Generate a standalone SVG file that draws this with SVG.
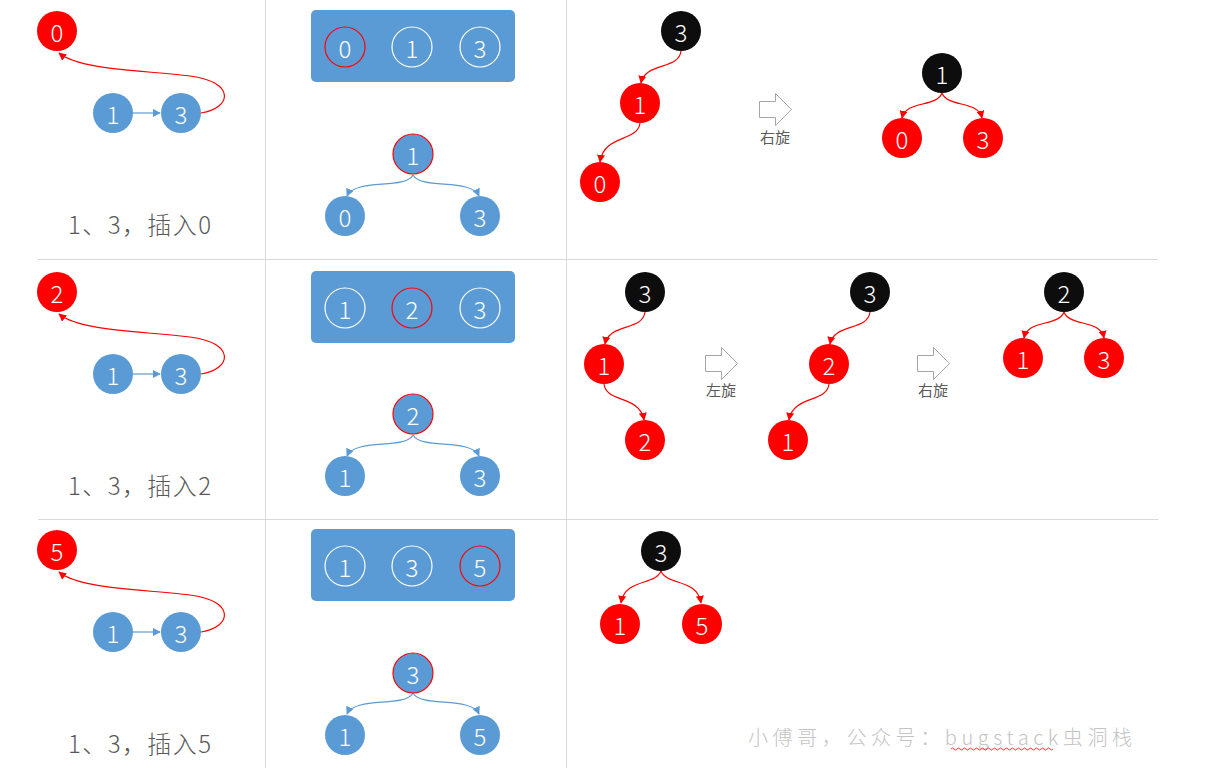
<svg xmlns="http://www.w3.org/2000/svg" width="1210" height="768" viewBox="0 0 1210 768">
<style>
.grid{stroke:#d9d9d9;stroke-width:1;fill:none}
.blue{fill:#5b9bd5}
.red{fill:#ff0000}
.blk{fill:#0d0d0d}
.ring{fill:none;stroke:#ffffff;stroke-width:1.2}
.ringr{fill:none;stroke:#ff0000;stroke-width:1.2}
.nt{fill:#ffffff;font-family:"Noto Sans CJK SC","Liberation Sans",sans-serif;font-size:24px;font-weight:300;text-anchor:middle;dominant-baseline:central}
.lbl{fill:#595959;font-family:"Noto Sans CJK SC","Liberation Sans",sans-serif;font-size:24px;font-weight:300}
.rot{fill:#595959;font-family:"Noto Sans CJK SC",sans-serif;font-size:15px;text-anchor:middle}
.cr{fill:none;stroke:#ff0000;stroke-width:1.2;marker-end:url(#ar)}
.cb{fill:none;stroke:#5b9bd5;stroke-width:1.2;marker-end:url(#ab)}
.blk-arrow{fill:#ffffff;stroke:#a6a6a6;stroke-width:1}
.wm{fill:#c4c4c4;font-family:"Noto Sans CJK SC",sans-serif;font-size:20px;font-weight:300}
</style>
<defs>
<marker id="ar" viewBox="0 0 10 10" refX="9" refY="5" markerWidth="8" markerHeight="8" markerUnits="userSpaceOnUse" orient="auto"><path d="M0,0L10,5L0,10z" fill="#ff0000"/></marker>
<marker id="ab" viewBox="0 0 10 10" refX="9" refY="5" markerWidth="8" markerHeight="8" markerUnits="userSpaceOnUse" orient="auto"><path d="M0,0L10,5L0,10z" fill="#5b9bd5"/></marker>
</defs>
<rect width="1210" height="768" fill="#ffffff"/>
<g id="grid">
<line class="grid" x1="38" y1="259.5" x2="1158" y2="259.5"/>
<line class="grid" x1="38" y1="519.5" x2="1158" y2="519.5"/>
<line class="grid" x1="265.5" y1="0" x2="265.5" y2="768"/>
<line class="grid" x1="566.5" y1="0" x2="566.5" y2="768"/>
</g>
<g id="connectors">
<path class="cb" d="M133,113L160,113"/>
<path class="cr" d="M201,113C232,108 236,82 190,76C140,70 80,70 59,53"/>
<path class="cb" d="M413,175C405,190 355,178 347,196"/>
<path class="cb" d="M413,175C421,190 471,178 479,196"/>
<path class="cr" d="M681,51C679,70 645,62 641,83"/>
<path class="cr" d="M640,123C638,142 604,134 600,162"/>
<path class="cr" d="M942,93C936,108 906,100 902,118"/>
<path class="cr" d="M942,93C948,108 978,100 982,118"/>
<path class="cb" d="M133,374L160,374"/>
<path class="cr" d="M201,374C232,369 236,343 190,337C140,331 80,331 59,314"/>
<path class="cb" d="M413,435C405,450 355,438 347,456"/>
<path class="cb" d="M413,435C421,450 471,438 479,456"/>
<path class="cr" d="M645,312C643,331 609,323 605,344"/>
<path class="cr" d="M604,384C606,403 640,395 644,420"/>
<path class="cr" d="M870,312C868,331 834,323 830,344"/>
<path class="cr" d="M829,384C827,403 793,395 789,420"/>
<path class="cr" d="M1064,312C1058,327 1028,319 1024,338"/>
<path class="cr" d="M1064,312C1070,327 1100,319 1104,338"/>
<path class="cb" d="M133,632L160,632"/>
<path class="cr" d="M201,632C232,627 236,601 190,595C140,589 80,589 59,572"/>
<path class="cb" d="M413,693C405,708 355,696 347,714"/>
<path class="cb" d="M413,693C421,708 471,696 479,714"/>
<path class="cr" d="M661,571C655,586 625,578 621,603"/>
<path class="cr" d="M661,571C667,586 697,578 701,603"/>
</g>
<g id="r1-new0"><circle class="red" cx="57" cy="31" r="20"/><text class="nt" x="57" y="31">0</text></g>
<g id="r1-list1"><circle class="blue" cx="113" cy="113" r="20"/><text class="nt" x="113" y="113">1</text></g>
<g id="r1-list3"><circle class="blue" cx="181" cy="113" r="20"/><text class="nt" x="181" y="113">3</text></g>
<text class="lbl" x="68" y="234" textLength="143" lengthAdjust="spacing">1、3，插入0</text>
<g id="r1-box"><rect class="blue" x="311" y="10" width="204" height="72" rx="5"/>
<circle class="ringr" cx="345" cy="47" r="20"/><text class="nt" x="345" y="47">0</text>
<circle class="ring" cx="412" cy="47" r="20"/><text class="nt" x="412" y="47">1</text>
<circle class="ring" cx="480" cy="47" r="20"/><text class="nt" x="480" y="47">3</text></g>
<g id="r1-t1"><circle class="blue" cx="413" cy="154" r="20" stroke="#ff0000" stroke-width="1.2"/><text class="nt" x="413" y="154">1</text></g>
<g id="r1-t0"><circle class="blue" cx="345" cy="216" r="20"/><text class="nt" x="345" y="216">0</text></g>
<g id="r1-t3"><circle class="blue" cx="480" cy="216" r="20"/><text class="nt" x="480" y="216">3</text></g>
<g id="r1-a3"><circle class="blk" cx="681" cy="31" r="20"/><text class="nt" x="681" y="31">3</text></g>
<g id="r1-a1"><circle class="red" cx="640" cy="103" r="20"/><text class="nt" x="640" y="103">1</text></g>
<g id="r1-a0"><circle class="red" cx="600" cy="182" r="20"/><text class="nt" x="600" y="182">0</text></g>
<g id="r1-rot"><path class="blk-arrow" d="M759.5,101.5H775.5V93.5L791.5,109.5L775.5,125.5V117.5H759.5Z"/><text class="rot" x="775" y="143">右旋</text></g>
<g id="r1-b1"><circle class="blk" cx="942" cy="73" r="20"/><text class="nt" x="942" y="73">1</text></g>
<g id="r1-b0"><circle class="red" cx="902" cy="138" r="20"/><text class="nt" x="902" y="138">0</text></g>
<g id="r1-b3"><circle class="red" cx="983" cy="138" r="20"/><text class="nt" x="983" y="138">3</text></g>
<g id="r2-new2"><circle class="red" cx="57" cy="292" r="20"/><text class="nt" x="57" y="292">2</text></g>
<g id="r2-list1"><circle class="blue" cx="113" cy="374" r="20"/><text class="nt" x="113" y="374">1</text></g>
<g id="r2-list3"><circle class="blue" cx="181" cy="374" r="20"/><text class="nt" x="181" y="374">3</text></g>
<text class="lbl" x="68" y="495" textLength="143" lengthAdjust="spacing">1、3，插入2</text>
<g id="r2-box"><rect class="blue" x="311" y="271" width="204" height="72" rx="5"/>
<circle class="ring" cx="345" cy="308" r="20"/><text class="nt" x="345" y="308">1</text>
<circle class="ringr" cx="412" cy="308" r="20"/><text class="nt" x="412" y="308">2</text>
<circle class="ring" cx="480" cy="308" r="20"/><text class="nt" x="480" y="308">3</text></g>
<g id="r2-t2"><circle class="blue" cx="413" cy="414" r="20" stroke="#ff0000" stroke-width="1.2"/><text class="nt" x="413" y="414">2</text></g>
<g id="r2-t1"><circle class="blue" cx="345" cy="476" r="20"/><text class="nt" x="345" y="476">1</text></g>
<g id="r2-t3"><circle class="blue" cx="480" cy="476" r="20"/><text class="nt" x="480" y="476">3</text></g>
<g id="r2-a3"><circle class="blk" cx="645" cy="292" r="20"/><text class="nt" x="645" y="292">3</text></g>
<g id="r2-a1"><circle class="red" cx="604" cy="364" r="20"/><text class="nt" x="604" y="364">1</text></g>
<g id="r2-a2"><circle class="red" cx="645" cy="440" r="20"/><text class="nt" x="645" y="440">2</text></g>
<g id="r2-rotl"><path class="blk-arrow" d="M705.5,355.5H721.5V347.5L737.5,363.5L721.5,379.5V371.5H705.5Z"/><text class="rot" x="721" y="396">左旋</text></g>
<g id="r2-b3"><circle class="blk" cx="870" cy="292" r="20"/><text class="nt" x="870" y="292">3</text></g>
<g id="r2-b2"><circle class="red" cx="829" cy="364" r="20"/><text class="nt" x="829" y="364">2</text></g>
<g id="r2-b1"><circle class="red" cx="788" cy="440" r="20"/><text class="nt" x="788" y="440">1</text></g>
<g id="r2-rotr"><path class="blk-arrow" d="M917.5,355.5H933.5V347.5L949.5,363.5L933.5,379.5V371.5H917.5Z"/><text class="rot" x="933" y="396">右旋</text></g>
<g id="r2-c2"><circle class="blk" cx="1064" cy="292" r="20"/><text class="nt" x="1064" y="292">2</text></g>
<g id="r2-c1"><circle class="red" cx="1023" cy="358" r="20"/><text class="nt" x="1023" y="358">1</text></g>
<g id="r2-c3"><circle class="red" cx="1104" cy="358" r="20"/><text class="nt" x="1104" y="358">3</text></g>
<g id="r3-new5"><circle class="red" cx="57" cy="550" r="20"/><text class="nt" x="57" y="550">5</text></g>
<g id="r3-list1"><circle class="blue" cx="113" cy="632" r="20"/><text class="nt" x="113" y="632">1</text></g>
<g id="r3-list3"><circle class="blue" cx="181" cy="632" r="20"/><text class="nt" x="181" y="632">3</text></g>
<text class="lbl" x="68" y="753" textLength="143" lengthAdjust="spacing">1、3，插入5</text>
<g id="r3-box"><rect class="blue" x="311" y="529" width="204" height="72" rx="5"/>
<circle class="ring" cx="345" cy="566" r="20"/><text class="nt" x="345" y="566">1</text>
<circle class="ring" cx="412" cy="566" r="20"/><text class="nt" x="412" y="566">3</text>
<circle class="ringr" cx="480" cy="566" r="20"/><text class="nt" x="480" y="566">5</text></g>
<g id="r3-t3"><circle class="blue" cx="413" cy="673" r="20" stroke="#ff0000" stroke-width="1.2"/><text class="nt" x="413" y="673">3</text></g>
<g id="r3-t1"><circle class="blue" cx="345" cy="735" r="20"/><text class="nt" x="345" y="735">1</text></g>
<g id="r3-t5"><circle class="blue" cx="480" cy="735" r="20"/><text class="nt" x="480" y="735">5</text></g>
<g id="r3-a3"><circle class="blk" cx="661" cy="551" r="20"/><text class="nt" x="661" y="551">3</text></g>
<g id="r3-a1"><circle class="red" cx="620" cy="624" r="20"/><text class="nt" x="620" y="624">1</text></g>
<g id="r3-a5"><circle class="red" cx="702" cy="624" r="20"/><text class="nt" x="702" y="624">5</text></g>
<text class="wm" x="748" y="745" textLength="384" lengthAdjust="spacing">小傅哥，公众号：bugstack虫洞栈</text>
<path d="M951,749q1.5,-2 3,0t3,0t3,0t3,0t3,0t3,0t3,0t3,0t3,0t3,0t3,0t3,0t3,0t3,0t3,0t3,0t3,0t3,0t3,0t3,0t3,0t3,0t3,0t3,0t3,0t3,0t3,0t3,0t3,0t3,0t3,0t3,0t3,0t3,0" fill="none" stroke="#ff0000" stroke-width="0.8"/>
</svg>
